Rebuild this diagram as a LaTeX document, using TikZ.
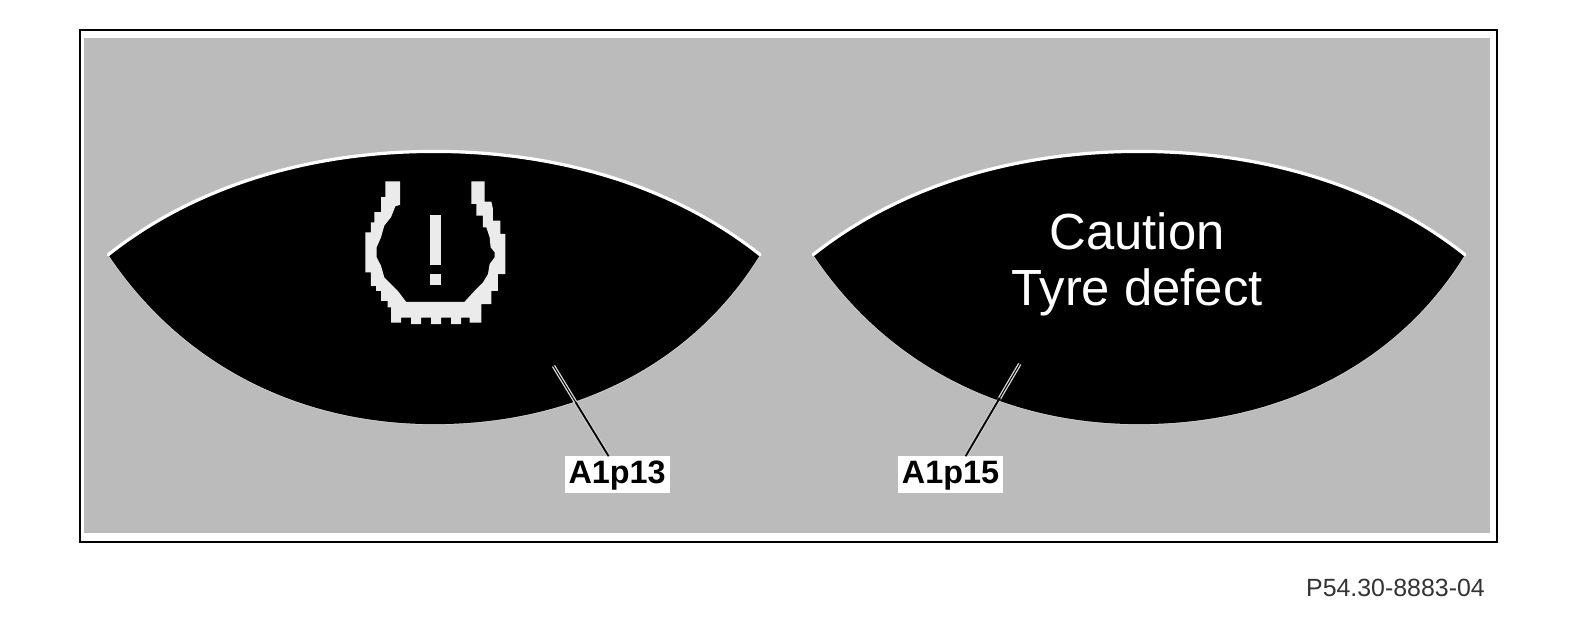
\documentclass[tikz,border=0pt]{standalone}
\usepackage{fontspec}
\setmainfont{Liberation Sans}
\definecolor{panel}{HTML}{BBBBBB}
\tikzset{
  lens/.style={fill=black},
  rim/.style={draw=white,line width=3.2bp,line cap=round},
  lowrim/.style={draw=white,line width=1.5bp,opacity=.35},
  halo/.style={draw=white!85!black,line width=3.6bp},
  fainthalo/.style={draw=white,line width=4bp,opacity=.25},
  leader/.style={draw=black,line width=1.8bp},
  leaderin/.style={draw=black,line width=1bp},
  tag/.style={fill=white,inner sep=0pt,minimum width=105bp,text height=27bp,text depth=10bp,font=\fontsize{32.5}{34}\selectfont\bfseries,text=black},
  msg/.style={text=white,font=\fontsize{51}{56.4}\selectfont,align=center,inner sep=0pt},
}
\newcommand{\lensshape}[1]{%
  \begin{scope}[xshift=#1]
  \draw[lowrim] (758,254) .. controls (690,365) and (570,423) .. (433,423)
     .. controls (296,423) and (180,362) .. (108,254);
  \fill[lens] (108,254) .. controls (195,185) and (310,151) .. (433,151)
     .. controls (556,151) and (671,185) .. (758,254)
     .. controls (690,365) and (570,423) .. (433,423)
     .. controls (296,423) and (180,362) .. (108,254) -- cycle;
  \draw[rim] (108,254) .. controls (195,185) and (310,151) .. (433,151)
     .. controls (556,151) and (671,185) .. (758,254);
  \end{scope}}
\begin{document}
\begin{tikzpicture}[x=1.0027bp,y=-1.0027bp]
\useasboundingbox (0,0) rectangle (1567.8,619.3);
\fill[white] (0,0) rectangle (1567.8,619.3);
\fill[panel] (84,38) rectangle (1486,532);
\draw[black,line width=2bp] (80,30) rectangle (1493,541);
\lensshape{0bp}
\lensshape{704.9bp}
% tyre warning symbol
\begin{scope}[shift={(355,175)},x=0.3342bp,y=-0.3342bp]
\fill[white!92!black] (88,18) -- (88,65) -- (75,65) -- (75,110) -- (55,110) -- (55,140) -- (45,140) -- (45,170) -- (28,170) -- (28,290) -- (45,290) -- (45,330) -- (60,330) -- (60,345) -- (75,345) -- (75,375) -- (95,375) -- (95,395) -- (105,395) -- (105,440) -- (135,440) -- (135,425) -- (165,425) -- (165,445) -- (195,445) -- (195,425) -- (225,425) -- (225,445) -- (255,445) -- (255,425) -- (285,425) -- (285,445) -- (315,445) -- (315,425) -- (340,425) -- (340,440) -- (375,440) -- (375,385) -- (405,385) -- (405,345) -- (425,345) -- (425,295) -- (447,295) -- (447,175) -- (432,175) -- (432,135) -- (410,135) -- (410,100) -- (405,78) -- (385,78) -- (385,18) -- (345,18) -- (345,85) -- (360,85) -- (360,120) -- (380,120) -- (380,155) -- (390,155) -- (400,185) -- (403,215) -- (415,230) -- (415,245) -- (400,265) -- (395,295) -- (380,320) -- (355,345) -- (325,378) -- (150,378) -- (125,345) -- (105,325) -- (85,305) -- (75,270) -- (62,245) -- (62,215) -- (75,185) -- (85,150) -- (105,125) -- (118,92) -- (132,88) -- (132,18) -- cycle;
\fill[white!92!black] (222,117) rectangle (255,267);
\fill[white!92!black] (222,295) rectangle (255,327);
\end{scope}
\node[msg] (caution) at (1134,264) {Caution\\Tyre defect};
\node[tag] (a13) at (615.5,473.5) {A1p13};
\node[tag] (a15) at (948,473.5) {A1p15};
\coordinate (p13) at (552,365);
\coordinate (p15) at (1017,363);
\coordinate (m13) at (574,401);
\coordinate (m15) at (997,397);
\coordinate (e13) at (607,455);
\coordinate (e15) at (963,455);
\draw[fainthalo] (m13) -- (e13);
\draw[fainthalo] (m15) -- (e15);
\draw[halo] (p13) -- (m13);
\draw[halo] (p15) -- (m15);
\draw[leaderin] (p13) -- (m13);
\draw[leaderin] (p15) -- (m15);
\draw[leader] (m13) -- (e13);
\draw[leader] (m15) -- (e15);
\node[inner sep=0pt,anchor=east,font=\fontsize{25}{27}\selectfont,text=black!80] (code) at (1481,586) {P54.30-8883-04};
\end{tikzpicture}
\end{document}
